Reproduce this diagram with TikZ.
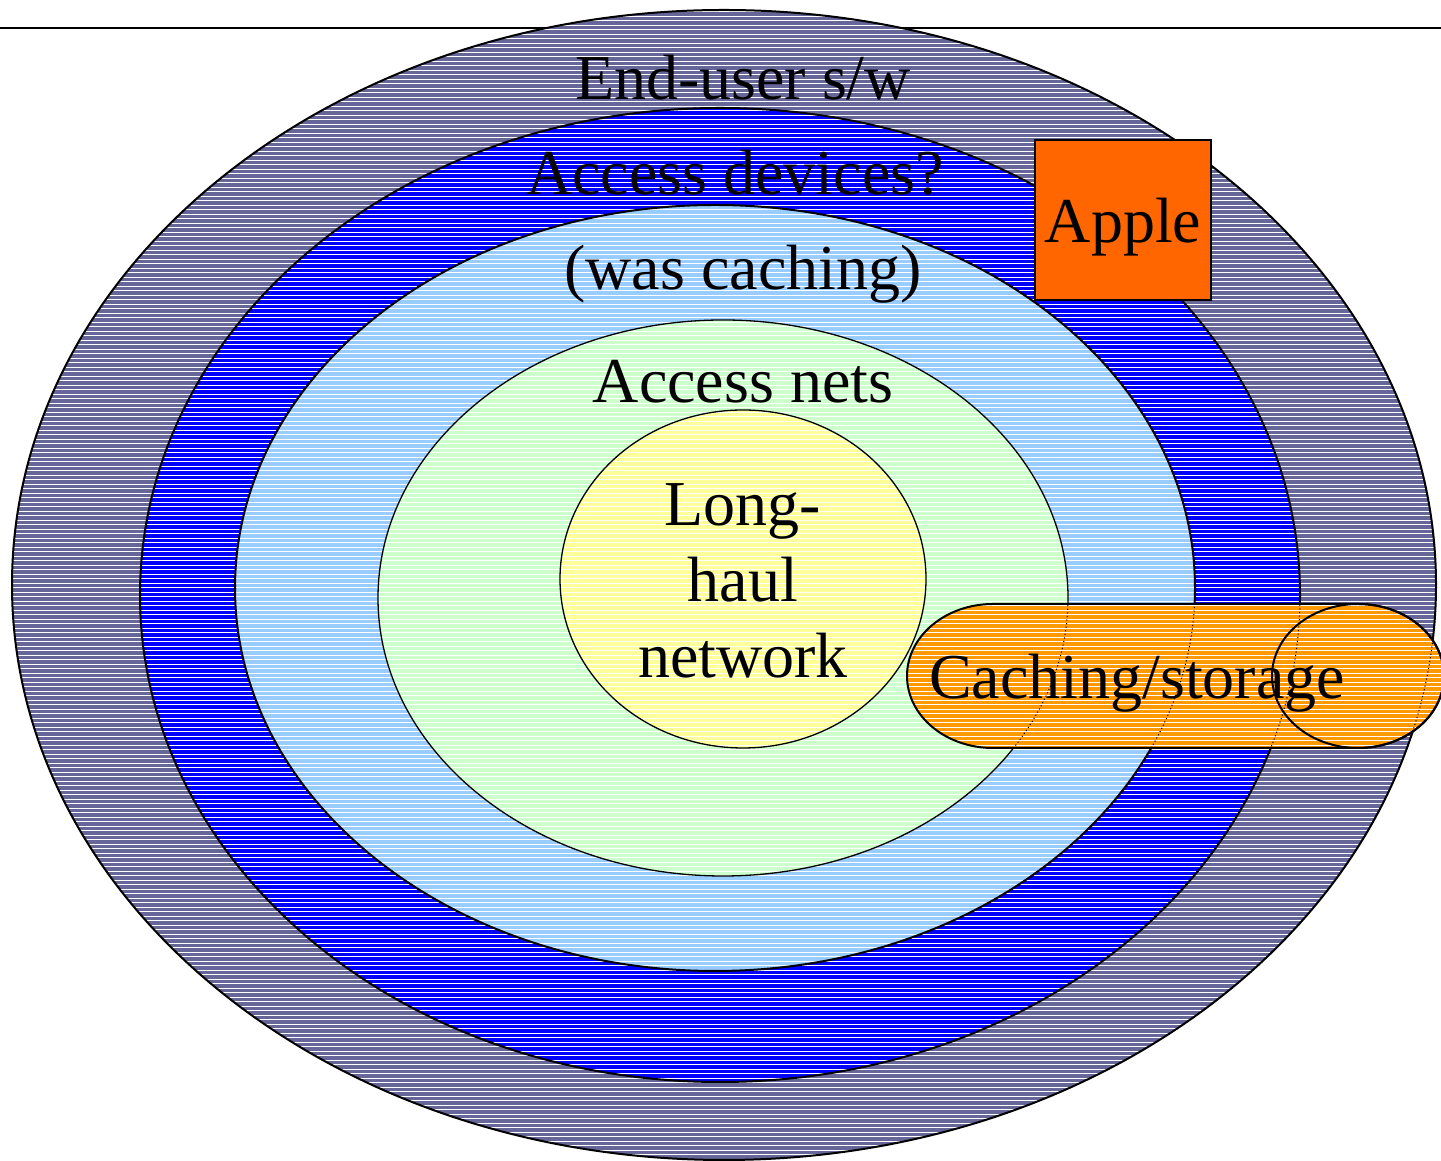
\documentclass[tikz,border=0pt]{standalone}
\usepackage{fontspec}
\setmainfont{Liberation Serif}
\definecolor{ringgray}{HTML}{666699}
\definecolor{ringblue}{HTML}{0000FF}
\definecolor{ringsky}{HTML}{99CCFF}
\definecolor{ringgreen}{HTML}{CCFFCC}
\definecolor{coreyellow}{HTML}{FFFF99}
\definecolor{cacheorange}{HTML}{FF9900}
\definecolor{appleorange}{HTML}{FF6600}
\tikzset{
  stripe/.style={white, line width=1pt},
  rim/.style={draw=black, line width=2pt},
  thinrim/.style={draw=black, line width=1.3pt},
  seen/.style={black, line width=1pt, dash pattern=on 1.2pt off 2.4pt},
  label/.style={font=\fontsize{64}{76}\selectfont, inner sep=0pt, anchor=base},
}
% white horizontal hatching over the current clip region
\newcommand\hatchfill[1]{%
  \fill[#1] (0,0) rectangle (1441,1161);
  \draw[stripe] \foreach \yy in {1.5,6,...,1161} {(0,\yy) -- (1441,\yy)};}
\begin{document}
\begin{tikzpicture}[x=1pt,y=1pt]
\useasboundingbox (0,0) rectangle (1441,1161);
% rule across the top
\draw[line width=1.6pt] (0,1133) -- (1441,1133);

% concentric layers, outside in
\begin{scope}\clip (724,576) ellipse [x radius=712, y radius=575]; \hatchfill{ringgray}\end{scope}
\draw[rim] (724,576) ellipse [x radius=712, y radius=575];
\begin{scope}\clip (720,566) ellipse [x radius=580, y radius=487]; \hatchfill{ringblue}\end{scope}
\draw[rim] (720,566) ellipse [x radius=580, y radius=487];
\begin{scope}\clip (715,573) ellipse [x radius=480, y radius=383]; \hatchfill{ringsky}\end{scope}
\draw[rim] (715,573) ellipse [x radius=480, y radius=383];
\begin{scope}\clip (723,563) ellipse [x radius=345, y radius=278]; \hatchfill{ringgreen}\end{scope}
\draw[thinrim] (723,563) ellipse [x radius=345, y radius=278];
\begin{scope}\clip (743,582) ellipse [x radius=183, y radius=169]; \hatchfill{coreyellow}\end{scope}
\draw[thinrim] (743,582) ellipse [x radius=183, y radius=169];

% caching/storage cylinder lying on its side
\def\cylpath{(993,557) -- (1358,557) arc[start angle=90, end angle=-90, x radius=86, y radius=72]
  -- (993,413) arc[start angle=270, end angle=90, x radius=86, y radius=72] -- cycle}
\begin{scope}
  \clip \cylpath;
  \hatchfill{cacheorange}
  % ring borders showing through the cylinder
  \draw[seen] (724,576) ellipse [x radius=712, y radius=575];
  \draw[seen] (720,566) ellipse [x radius=580, y radius=487];
  \draw[seen] (715,573) ellipse [x radius=480, y radius=383];
  \draw[seen] (723,563) ellipse [x radius=345, y radius=278];
\end{scope}
\draw[rim] \cylpath;
\draw[rim] (1358,485) ellipse [x radius=86, y radius=72];

% Apple box
\node[draw=black, line width=2pt, fill=appleorange, minimum width=176pt, minimum height=160pt,
      inner sep=0pt] (applebox) at (1123,941) {};

% texts
\node[label] (enduser) at (743,1061) {End-user s/w};
\node[label] (devices) at (735,966) {Access devices?};
\node[label] (wascache) at (743,871) {(was caching)};
\node[label] (nets) at (743,758) {Access nets};
\node[label] (long) at (743,635) {Long-};
\node[label] (haul) at (743,559) {haul};
\node[label] (network) at (743,483) {network};
\node[label] (caching) at (1137,462) {Caching/storage};
\node[label] (apple) at (1123,918) {Apple};
\end{tikzpicture}
\end{document}
